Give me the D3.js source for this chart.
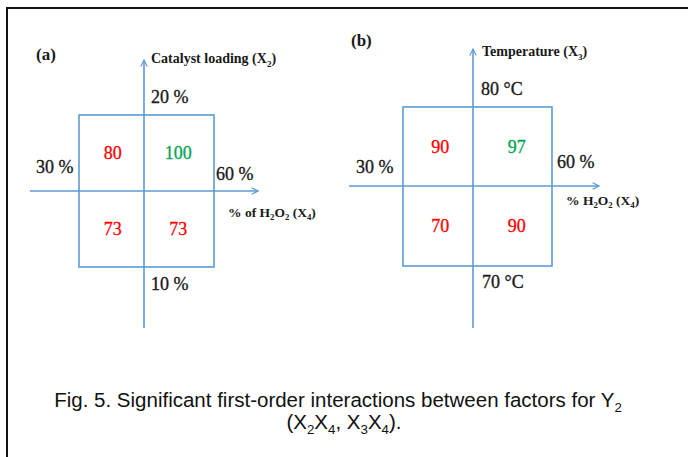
<!DOCTYPE html>
<html><head><meta charset="utf-8">
<script src="https://cdn.jsdelivr.net/npm/d3@7"></script>
<style>
html,body{margin:0;padding:0;background:#fff;}
svg{display:block;}
</style></head><body>
<script>
// ---- data ----
const panelLabels = ["(a)", "(b)"];
const xLevels = ["30 %", "60 %"];               // % of H2O2 (X4) low / high
const yLevelsA = ["10 %", "20 %"];              // Catalyst loading (X2) low / high
const yLevelsB = ["70 °C", "80 °C"];            // Temperature (X3) low / high
const cellPos = [[-1, 1], [1, 1], [-1, -1], [1, -1]]; // TL, TR, BL, BR
const valuesA = [80, 100, 73, 73];
const valuesB = [90, 97, 70, 90];
const highlightA = [false, true, false, false];
const highlightB = [false, true, false, false];

const W = 688, H = 457;
const SERIF = "'Liberation Serif', 'Times New Roman', serif";
const SANS = "'Liberation Sans', Arial, sans-serif";
const svg = d3.select("body").append("svg").attr("width", W).attr("height", H);

// frame
svg.append("path").attr("d", `M7,${H+2} L7,8 L${W+2},8`).attr("fill","none")
  .attr("stroke","#111").attr("stroke-width",2);

const blue = "#5b9bd5", red = "#ff0000", green = "#00a650";

const defs = svg.append("defs");
defs.append("marker").attr("id","arr").attr("viewBox","0 0 10 10").attr("refX",9).attr("refY",5)
  .attr("markerWidth",8).attr("markerHeight",8).attr("markerUnits","userSpaceOnUse").attr("orient","auto")
  .append("path").attr("d","M1,1 L9,5 L1,9").attr("fill","none").attr("stroke",blue).attr("stroke-width",1.4);

function sub(sel, parts, size){
  let acc = 0;
  parts.forEach(([t, s]) => {
    const ts = sel.append("tspan").text(t);
    const want = s ? size*0.25 : 0;
    if (s) ts.style("font-size", (size*0.65) + "px");
    ts.attr("dy", want - acc);
    acc = want;
  });
}

function txt(g, x, y, size, weight, family, fill){
  return g.append("text").attr("x", x).attr("y", y)
    .style("font-family", family).style("font-size", size + "px")
    .style("font-weight", weight).style("fill", fill);
}

const panels = [
  { label: panelLabels[0], labelPos:[36,60],
    box:{x0:79,x1:214,y0:115,y1:267}, cx:144, cy:191,
    hAxis:[30,258], vAxis:[328,60],
    yTitle:[["Catalyst  loading (X",0],["2",1],[")",0]], yTitlePos:[151,63],
    xTitle:[["% of H",0],["2",1],["O",0],["2",1],[" (X",0],["4",1],[")",0]], xTitlePos:[228,217],
    yHigh:yLevelsA[1], yHighPos:[151,103], yLow:yLevelsA[0], yLowPos:[151,290],
    xLowPos:[36,173], xHighPos:[216,180],
    values: valuesA, hl: highlightA, valDy: 6, valDx: -2 },
  { label: panelLabels[1], labelPos:[351,46],
    box:{x0:403,x1:552,y0:107,y1:266}, cx:473, cy:186,
    hAxis:[349,599], vAxis:[328,49],
    yTitle:[["Temperature (X",0],["3",1],[")",0]], yTitlePos:[482,56],
    xTitle:[["% H",0],["2",1],["O",0],["2",1],[" (X",0],["4",1],[")",0]], xTitlePos:[566,205],
    yHigh:yLevelsB[1], yHighPos:[481,95], yLow:yLevelsB[0], yLowPos:[482,288],
    xLowPos:[356,173], xHighPos:[557,168],
    values: valuesB, hl: highlightB, valDy: 6, valDx: 2 }
];

panels.forEach(p => {
  const g = svg.append("g");
  const x = d3.scaleLinear().domain([-1, 1]).range([p.box.x0, p.box.x1]);
  const y = d3.scaleLinear().domain([-1, 1]).range([p.box.y1, p.box.y0]);
  g.append("rect").attr("x", x(-1)).attr("y", y(1)).attr("width", x(1)-x(-1)).attr("height", y(-1)-y(1))
    .attr("fill","none").attr("stroke",blue).attr("stroke-width",1.6);
  g.append("line").attr("x1",p.hAxis[0]).attr("x2",p.hAxis[1]).attr("y1",p.cy).attr("y2",p.cy)
    .attr("stroke",blue).attr("stroke-width",1.6).attr("marker-end","url(#arr)");
  g.append("line").attr("x1",p.cx).attr("x2",p.cx).attr("y1",p.vAxis[0]).attr("y2",p.vAxis[1])
    .attr("stroke",blue).attr("stroke-width",1.6).attr("marker-end","url(#arr)");
  txt(g, p.labelPos[0], p.labelPos[1], 17, "bold", SERIF, "#1a1a1a").text(p.label);
  sub(txt(g, p.yTitlePos[0], p.yTitlePos[1], 14, "bold", SERIF, "#1a1a1a"), p.yTitle, 14);
  sub(txt(g, p.xTitlePos[0], p.xTitlePos[1], 13.5, "bold", SERIF, "#1a1a1a"), p.xTitle, 13.5);
  const lvl = [[p.yHigh,p.yHighPos],[p.yLow,p.yLowPos],[xLevels[0],p.xLowPos],[xLevels[1],p.xHighPos]];
  lvl.forEach(([t,pos]) => txt(g, pos[0], pos[1], 18, "normal", SERIF, "#1a1a1a")
    .style("stroke","#1a1a1a").style("stroke-width",0.35).text(t));
  g.selectAll("text.val").data(p.values).join("text").attr("class","val")
    .attr("x",(d,i)=> (x(cellPos[i][0]) + x(0)) / 2 + (cellPos[i][0] > 0 ? p.valDx : 0))
    .attr("y",(d,i)=> (y(cellPos[i][1]) + y(0)) / 2 + p.valDy)
    .attr("text-anchor","middle")
    .style("font-family", SERIF).style("font-size","18px")
    .style("fill",(d,i)=> p.hl[i] ? green : red)
    .style("stroke",(d,i)=> p.hl[i] ? green : red).style("stroke-width",0.3)
    .text(d=>d);
});

// caption
const cap = txt(svg, 338, 407, 20.5, "normal", SANS, "#111").attr("text-anchor","middle");
sub(cap, [["Fig. 5. Significant first-order interactions between factors for Y",0],["2",1]], 20.5);
const cap2 = txt(svg, 344, 429, 20.5, "normal", SANS, "#111").attr("text-anchor","middle");
sub(cap2, [["(X",0],["2",1],["X",0],["4",1],[", X",0],["3",1],["X",0],["4",1],[").",0]], 20.5);
</script>
</body></html>
